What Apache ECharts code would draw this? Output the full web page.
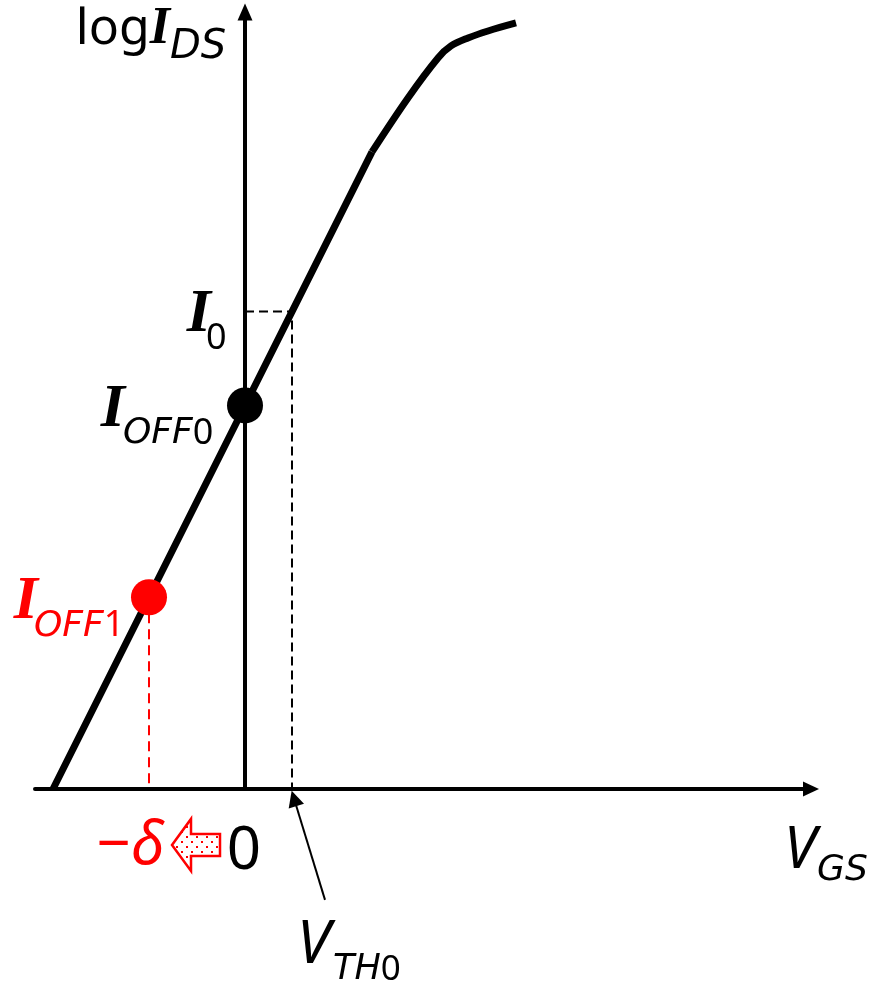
<!DOCTYPE html>
<html>
<head>
<meta charset="utf-8">
<script src="https://cdn.jsdelivr.net/npm/echarts@6/dist/echarts.min.js"></script>
<style>
  html, body { margin: 0; padding: 0; background: #ffffff; }
  #chart { width: 875px; height: 985px; }
</style>
</head>
<body>
<div id="chart"></div>
<script>
// Transfer characteristic sketch: log(I_DS) against V_GS.
// Units: x = gate voltage (arbitrary), y = log of drain current (arbitrary).

// Straight sub-threshold part of the curve
const subthresholdCurve = [[-1.92, 0], [-0.96, 1.92], [0, 3.84], [0.47, 4.78], [1.27, 6.38]];
// Bend towards saturation at high gate voltage
const saturationCurve = [[1.27, 6.38], [1.63, 6.92], [1.93, 7.32], [2.06, 7.44], [2.23, 7.52], [2.43, 7.59], [2.71, 7.67]];

// Characteristic points
const vTh0 = 0.47;                // threshold voltage
const iZero = 4.78;               // current that defines the threshold
const offPoint0 = [0, 3.84];      // I_OFF0 at V_GS = 0
const deltaShift = -0.96;         // -δ
const offPoint1 = [-0.96, 1.92];  // I_OFF1 at V_GS = -δ

// Axis extents
const xExtent = [-2.1, 5.66];
const yExtent = [0, 7.78];

const RED = '#ff0000';
const BLACK = '#000000';
const SANS = '"Noto Sans", "DejaVu Sans", sans-serif';
const WIDE = '"DejaVu Sans", "Noto Sans", sans-serif';
const SERIF = '"Liberation Serif", "DejaVu Serif", serif';

// Dotted fill used inside the hollow shift arrow
function dotPattern() {
  const c = document.createElement('canvas');
  c.width = 10; c.height = 10;
  const g = c.getContext('2d');
  g.fillStyle = '#ffffff';
  g.fillRect(0, 0, 10, 10);
  g.fillStyle = RED;
  g.fillRect(1, 1, 2, 2);
  g.fillRect(6, 6, 2, 2);
  return { image: c, repeat: 'repeat' };
}

// Text token styles: bold italic serif "I", italic sans letters, upright sans digits
function tokens(color, size) {
  return {
    I: { fontFamily: SERIF, fontStyle: 'italic', fontWeight: 'bold', fontSize: size, color: color, lineHeight: size + 6 },
    V: { fontFamily: SANS, fontStyle: 'italic', fontSize: size, color: color, lineHeight: size + 6 },
    n: { fontFamily: SANS, fontSize: size, color: color, lineHeight: size + 6 },
    s: { fontFamily: WIDE, fontStyle: 'italic', fontSize: size, color: color, lineHeight: size + 6 },
    d: { fontFamily: SANS, fontSize: size, color: color, lineHeight: size + 6 }
  };
}

function annotation(value, text, color, rich, align, offset) {
  return {
    value: value,
    label: {
      show: true,
      position: 'inside',
      align: align,
      verticalAlign: 'middle',
      offset: offset,
      formatter: text,
      color: color,
      opacity: 1,
      rich: rich
    }
  };
}

const yTop = [0, yExtent[1]];
const i0Mark = [0, iZero];
const vgsEnd = [xExtent[1], 0];
const vthTail = [0.80, -1.11];

const logRich = tokens(BLACK, 52);
logRich.n = { fontFamily: SANS, fontSize: 50, color: BLACK, lineHeight: 58 };

const chart = echarts.init(document.getElementById('chart'), null, { renderer: 'canvas' });

const option = {
  animation: false,
  backgroundColor: '#ffffff',
  grid: { left: 35, right: 64, top: 12, bottom: 196, containLabel: false },
  xAxis: {
    type: 'value',
    min: xExtent[0], max: xExtent[1],
    axisLine: {
      show: true, onZero: true,
      symbol: ['none', 'triangle'], symbolSize: [15, 16],
      lineStyle: { color: BLACK, width: 4 }
    },
    axisTick: { show: false },
    axisLabel: { show: false },
    splitLine: { show: false }
  },
  yAxis: {
    type: 'value',
    min: yExtent[0], max: yExtent[1],
    axisLine: {
      show: true, onZero: true,
      symbol: ['none', 'triangle'], symbolSize: [15, 17],
      lineStyle: { color: BLACK, width: 4 }
    },
    axisTick: { show: false },
    axisLabel: { show: false },
    splitLine: { show: false }
  },
  series: [
    {
      name: 'subthreshold', type: 'line', data: subthresholdCurve,
      symbol: 'none', smooth: false, clip: false,
      lineStyle: { color: BLACK, width: 7, cap: 'butt' }, z: 5
    },
    {
      name: 'saturation', type: 'line', data: saturationCurve,
      symbol: 'none', smooth: 0.35, clip: false,
      lineStyle: { color: BLACK, width: 7, cap: 'butt' }, z: 5
    },
    {
      name: 'I0 guide', type: 'line',
      data: [[0, iZero], [vTh0, iZero], [vTh0, 0]],
      symbol: 'none', clip: false,
      lineStyle: { color: BLACK, width: 2, type: [9, 5] }, z: 3
    },
    {
      name: 'shift guide', type: 'line',
      data: [offPoint1, [deltaShift, 0]],
      symbol: 'none', clip: false,
      lineStyle: { color: RED, width: 2, type: [10, 6] }, z: 3
    },
    {
      name: 'off currents', type: 'scatter', clip: false,
      symbolSize: 36, z: 10,
      data: [
        { value: offPoint0, itemStyle: { color: BLACK, opacity: 1 } },
        { value: offPoint1, itemStyle: { color: RED, opacity: 1 } }
      ]
    },
    {
      name: 'threshold pointer', type: 'lines', coordinateSystem: 'cartesian2d', clip: false,
      symbol: ['none', 'triangle'], symbolSize: [14, 16],
      lineStyle: { color: BLACK, width: 2, opacity: 1 },
      data: [{ coords: [vthTail, [vTh0 + 0.02, -0.095]] }], z: 6
    },
    {
      // Hollow, dotted arrow pointing from 0 towards -δ
      name: 'shift arrow', type: 'custom', clip: false, z: 6,
      data: [[-0.49, -0.56]],
      renderItem: function (params, api) {
        const c = api.coord([api.value(0), api.value(1)]);
        const w = 48, h = 52, head = 19, shaft = 11;
        const x0 = c[0] - w / 2, y0 = c[1];
        const pts = [
          [x0, y0], [x0 + head, y0 - h / 2], [x0 + head, y0 - shaft],
          [x0 + w, y0 - shaft], [x0 + w, y0 + shaft], [x0 + head, y0 + shaft],
          [x0 + head, y0 + h / 2]
        ];
        return {
          type: 'polygon',
          shape: { points: pts },
          style: { fill: dotPattern(), stroke: RED, lineWidth: 2.5 }
        };
      }
    },
    {
      name: 'annotations', type: 'scatter', clip: false,
      symbolSize: 1, itemStyle: { color: 'rgba(0,0,0,0)', opacity: 1 }, z: 12,
      data: [
        // log I_DS (axis title)
        annotation(yTop, '{n|log}{I|I}', BLACK, logRich, 'right', [-75, 18]),
        annotation(yTop, '{s|DS}', BLACK, tokens(BLACK, 40), 'left', [-75, 36]),
        // I_0
        annotation(i0Mark, '{I|I}', BLACK, tokens(BLACK, 62), 'right', [-34, 3]),
        annotation(i0Mark, '{d|0}', BLACK, tokens(BLACK, 36), 'left', [-39, 27]),
        // I_OFF0
        annotation(offPoint0, '{I|I}', BLACK, tokens(BLACK, 62), 'right', [-120, 4]),
        annotation(offPoint0, '{s|OFF}{d|0}', BLACK, tokens(BLACK, 36), 'left', [-122, 28]),
        // I_OFF1
        annotation(offPoint1, '{I|I}', RED, tokens(RED, 62), 'right', [-111, 5]),
        annotation(offPoint1, '{s|OFF}{d|1}', RED, tokens(RED, 36), 'left', [-115, 29]),
        // x-axis values
        annotation([0, 0], '{n|0}', BLACK, tokens(BLACK, 60), 'center', [-1, 63]),
        annotation([deltaShift, 0], '{n|\u2212}{V|\u03b4}', RED, tokens(RED, 60), 'right', [15, 58]),
        // V_GS (axis title)
        annotation(vgsEnd, '{V|V}', BLACK, tokens(BLACK, 58), 'left', [-27, 62]),
        annotation(vgsEnd, '{s|GS}', BLACK, tokens(BLACK, 36), 'left', [6, 82]),
        // V_TH0
        annotation(vthTail, '{V|V}', BLACK, tokens(BLACK, 60), 'left', [-28, 46]),
        annotation(vthTail, '{s|TH}{d|0}', BLACK, tokens(BLACK, 35), 'left', [8, 70])
      ]
    }
  ]
};

chart.setOption(option);
</script>
</body>
</html>
